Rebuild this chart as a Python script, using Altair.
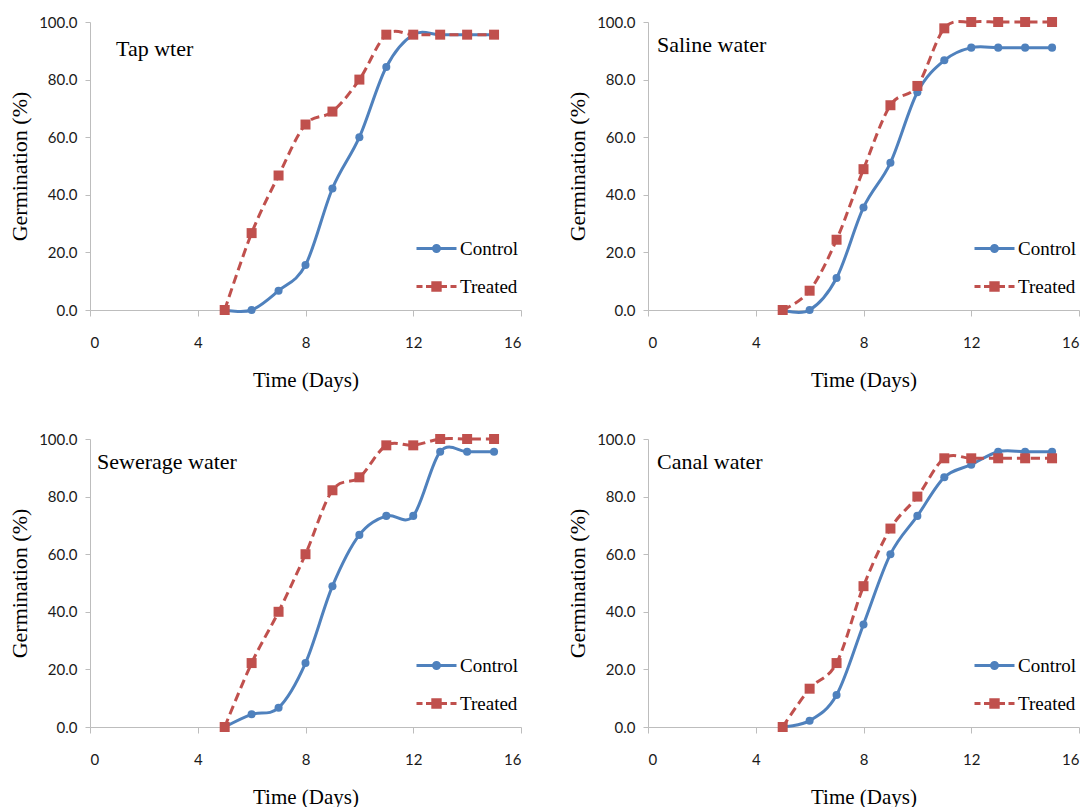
import altair as alt
import pandas as pd

days = [5, 6, 7, 8, 9, 10, 11, 12, 13, 14, 15]
series_names = ["Control", "Treated"]
panel_names = ["Tap wter", "Saline water", "Sewerage water", "Canal water"]

tap_control = [0.0, 0.0, 6.7, 15.6, 42.2, 60.0, 84.4, 95.6, 95.6, 95.6, 95.6]
tap_treated = [0.0, 26.7, 46.7, 64.4, 68.9, 80.0, 95.6, 95.6, 95.6, 95.6, 95.6]
saline_control = [0.0, 0.0, 11.1, 35.6, 51.1, 75.6, 86.7, 91.1, 91.1, 91.1, 91.1]
saline_treated = [0.0, 6.7, 24.4, 48.9, 71.1, 77.8, 97.8, 100.0, 100.0, 100.0, 100.0]
sewer_control = [0.0, 4.4, 6.7, 22.2, 48.9, 66.7, 73.3, 73.3, 95.6, 95.6, 95.6]
sewer_treated = [0.0, 22.2, 40.0, 60.0, 82.2, 86.7, 97.8, 97.8, 100.0, 100.0, 100.0]
canal_control = [0.0, 2.2, 11.1, 35.6, 60.0, 73.3, 86.7, 91.1, 95.6, 95.6, 95.6]
canal_treated = [0.0, 13.3, 22.2, 48.9, 68.9, 80.0, 93.3, 93.3, 93.3, 93.3, 93.3]

x_ticks = [0, 4, 8, 12, 16]
y_ticks = [0, 20, 40, 60, 80, 100]

colors = ["#4F81BD", "#C0504D"]
AXIS_GRAY = "#BDBDBD"
SERIF = "Liberation Serif"
SANS = "Lato"

# legend symbols: line with marker (solid + circle / dashed + square)
ctrl_symbol = "M-2,0H2M-0.3,0A0.3,0.3,0,1,0,0.3,0A0.3,0.3,0,1,0,-0.3,0Z"
trt_symbol = ("M-2,0H-1.4M-1.05,0H-0.4M0.4,0H1.05M1.4,0H2"
              "M-0.37,-0.37H0.37V0.37H-0.37Z")

title_dx = [26, 9, 7, 9]
title_dy = [63, 59, 59, 59]


def panel(name, ctrl, trt, dx, dy):
    df = pd.DataFrame({
        "Day": days + days,
        "Germination": ctrl + trt,
        "Series": ["Control"] * len(days) + ["Treated"] * len(days),
    })
    base = alt.Chart(df)
    x = alt.X("Day:Q",
              scale=alt.Scale(domain=[0, 16], nice=False, zero=False),
              axis=alt.Axis(values=x_ticks, title="Time (Days)", format="d",
                            tickSize=6, labelPadding=19, titlePadding=19,
                            titleFontSize=21))
    y = alt.Y("Germination:Q",
              scale=alt.Scale(domain=[0, 100], nice=False),
              axis=alt.Axis(values=y_ticks, format=".1f", title="Germination (%)",
                            tickSize=5, labelPadding=8, titlePadding=7,
                            titleFontSize=22))
    color = alt.Color("Series:N",
                      scale=alt.Scale(domain=series_names, range=colors),
                      legend=None)

    ctrl_line = base.mark_line(interpolate="cardinal", strokeWidth=3).encode(
        x=x, y=y, color=color).transform_filter(alt.datum.Series == "Control")
    ctrl_pts = base.mark_point(shape="circle", filled=True, size=65, opacity=1).encode(
        x=x, y=y, color=color).transform_filter(alt.datum.Series == "Control")
    trt_line = base.mark_line(interpolate="cardinal", strokeWidth=3,
                              strokeDash=[9, 5]).encode(
        x=x, y=y, color=color).transform_filter(alt.datum.Series == "Treated")
    trt_pts = base.mark_point(shape="square", filled=True, size=100, opacity=1).encode(
        x=x, y=y, color=color).transform_filter(alt.datum.Series == "Treated")

    leg = alt.Legend(orient="none", legendX=335, legendY=215, title=None,
                     labelFont=SERIF, labelFontSize=19, labelColor="black",
                     symbolSize=400, symbolStrokeWidth=3, symbolOpacity=1,
                     rowPadding=16, labelOffset=12, padding=0)
    legend_layer = base.mark_point(filled=True, opacity=0, size=400,
                                   strokeWidth=3).encode(
        x=x, y=y,
        shape=alt.Shape("Series:N",
                        scale=alt.Scale(domain=series_names,
                                        range=[ctrl_symbol, trt_symbol]),
                        legend=leg),
        fill=alt.Fill("Series:N",
                      scale=alt.Scale(domain=series_names, range=colors),
                      legend=leg),
        stroke=alt.Stroke("Series:N",
                          scale=alt.Scale(domain=series_names, range=colors),
                          legend=leg),
    )

    return alt.layer(ctrl_line, ctrl_pts, trt_line, trt_pts, legend_layer).properties(
        width=431, height=288,
        title=alt.Title(name, anchor="start", frame="group", offset=0,
                        dx=dx, dy=dy, baseline="alphabetic",
                        font=SERIF, fontSize=22, fontWeight="normal",
                        color="black"),
    )


charts = [
    panel(panel_names[0], tap_control, tap_treated, title_dx[0], title_dy[0]),
    panel(panel_names[1], saline_control, saline_treated, title_dx[1], title_dy[1]),
    panel(panel_names[2], sewer_control, sewer_treated, title_dx[2], title_dy[2]),
    panel(panel_names[3], canal_control, canal_treated, title_dx[3], title_dy[3]),
]

chart = alt.concat(*charts, columns=2, spacing={"row": 129, "column": 127},
                   bounds="flush").resolve_scale(
    fill="independent", stroke="independent", shape="independent",
).resolve_legend(
    fill="independent", stroke="independent", shape="independent",
).properties(
    padding={"left": 0, "top": 7, "right": 0, "bottom": 0},
    background="white",
).configure_view(stroke=None).configure_axis(
    grid=False, domainColor=AXIS_GRAY, tickColor=AXIS_GRAY,
    labelFont=SANS, labelFontSize=15, labelColor="#1a1a1a",
    titleFont=SERIF, titleFontWeight="normal", titleColor="black",
)

chart.save("out.html", embed_options={"renderer": "svg", "actions": False})
